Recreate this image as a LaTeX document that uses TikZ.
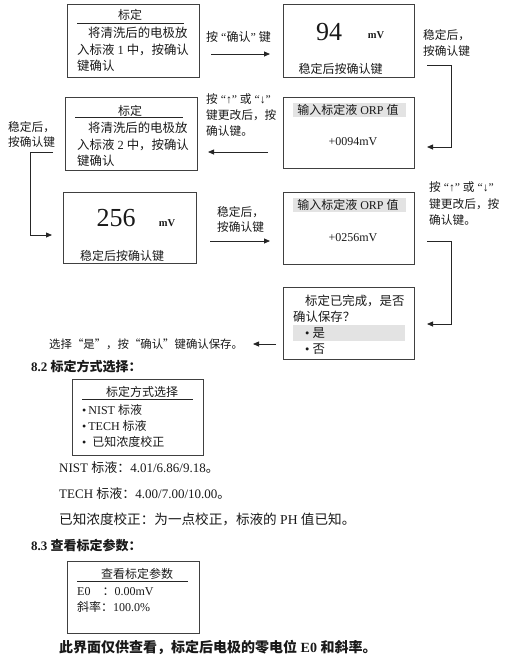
\documentclass[tikz,border=0pt]{standalone}
\usepackage{fontspec}
\setmainfont{Liberation Serif}
\newfontfamily\cjk{Noto Sans CJK SC}
\newcommand\C[1]{{\cjk #1}}
\usetikzlibrary{arrows.meta}
\begin{document}
\begin{tikzpicture}[x=1pt,y=-1pt,
  every node/.style={inner sep=0pt,text=black!90},
  txt/.style={anchor=west,font=\fontsize{12}{14}\selectfont},
  btxt/.style={anchor=west,font=\fontsize{12.4}{14}\selectfont},
  atxt/.style={anchor=west,font=\fontsize{11.7}{14}\selectfont},
  ptxt/.style={anchor=west,font=\fontsize{13}{15}\selectfont},
  ctxt/.style={anchor=center,font=\fontsize{12}{14}\selectfont},
  boxn/.style={draw=black!75,line width=0.9pt,minimum width=#1,anchor=center},
  big/.style={anchor=center,font=\fontsize{26}{28}\selectfont},
  unit/.style={anchor=center,font=\fontsize{10.5}{12}\selectfont\bfseries},
  band/.style={fill=black!11,draw=none},
  uline/.style={line width=0.8pt,black!85},
  arr/.style={line width=0.8pt,black!85,-{Triangle[length=6pt,width=5pt]}},
  head/.style={anchor=west,font=\fontsize{13}{15}\selectfont\bfseries}
]
\useasboundingbox (0,0) rectangle (513,656);

% Box 1
\node[boxn=132pt,minimum height=73pt] (b1) at (133,40.5) {};
\node[ctxt] (b1t) at (130,15) {\C{标定}};
\draw[uline] (77,23) -- (184,23);
\node[btxt] (b1a) at (88,33) {\C{将清洗后的电极放}};
\node[btxt] (b1b) at (77,50) {\C{入标液} 1 \C{中，按确认}};
\node[btxt] (b1c) at (77,66) {\C{键确认}};

% arrow 1
\node[txt] (l1) at (206,37) {\C{按} “\C{确认}” \C{键}};
\coordinate (a1s) at (211,54);
\coordinate (a1e) at (270,54);
\draw[arr] (a1s) -- (a1e);

% Box 2
\node[boxn=131pt,minimum height=73pt] (b2) at (348.5,40.5) {};
\node[big] (n94) at (329,32) {94};
\node[unit] (mv1) at (376,35) {mV};
\node[ctxt] (b2t) at (340.5,69) {\C{稳定后按确认键}};

\node[atxt] (r1a) at (423,35) {\C{稳定后，}};
\node[atxt] (r1b) at (423,51) {\C{按确认键}};
\coordinate (c1s) at (427,65);
\coordinate (c1e) at (427,147);
\draw[arr] (c1s) -- (451,65) -- (451,147) -- (c1e);

% Box 3
\node[boxn=131pt,minimum height=71pt] (b3) at (348.5,132.5) {};
\fill[band] (293,103) rectangle (406,117);
\node[ctxt] (b3h) at (348,110) {\C{输入标定液} ORP \C{值}};
\node[ctxt] (b3v) at (353,142) {+0094mV};

\node[atxt] (l2a) at (206,99) {\C{按} “↑” \C{或} “↓”};
\node[atxt] (l2b) at (206,115) {\C{键更改后，按}};
\node[atxt] (l2c) at (206,131) {\C{确认键。}};
\coordinate (a2s) at (268,152);
\coordinate (a2e) at (208,152);
\draw[arr] (a2s) -- (a2e);

% Box 4
\node[boxn=132pt,minimum height=73pt] (b4) at (131,133.5) {};
\node[ctxt] (b4t) at (130,111) {\C{标定}};
\draw[uline] (75,117) -- (183,117);
\node[btxt] (b4a) at (88,128) {\C{将清洗后的电极放}};
\node[btxt] (b4b) at (77,145) {\C{入标液} 2 \C{中，按确认}};
\node[btxt] (b4c) at (77,161) {\C{键确认}};

\node[atxt] (r2a) at (8,127) {\C{稳定后，}};
\node[atxt] (r2b) at (8,142) {\C{按确认键}};
\coordinate (c2s) at (53,152);
\coordinate (c2e) at (52,235);
\draw[arr] (c2s) -- (30,152) -- (30,235) -- (c2e);

% Box 5
\node[boxn=133pt,minimum height=71pt] (b5) at (129.5,227.5) {};
\node[big] (n256) at (116,218) {256};
\node[unit] (mv2) at (167,223) {mV};
\node[ctxt] (b5t) at (122,256) {\C{稳定后按确认键}};

\node[atxt] (l3a) at (217,212) {\C{稳定后，}};
\node[atxt] (l3b) at (217,227) {\C{按确认键}};
\coordinate (a3s) at (210,241);
\coordinate (a3e) at (270,241);
\draw[arr] (a3s) -- (a3e);

% Box 6
\node[boxn=131pt,minimum height=72pt] (b6) at (348.5,228) {};
\fill[band] (293,198) rectangle (406,212);
\node[ctxt] (b6h) at (348,205) {\C{输入标定液} ORP \C{值}};
\node[ctxt] (b6v) at (353,238) {+0256mV};

\node[atxt] (r3a) at (429,187) {\C{按} “↑” \C{或} “↓”};
\node[atxt] (r3b) at (429,204) {\C{键更改后，按}};
\node[atxt] (r3c) at (429,220) {\C{确认键。}};
\coordinate (c3s) at (427,241);
\coordinate (c3e) at (427,324);
\draw[arr] (c3s) -- (451,241) -- (451,324) -- (c3e);

% Box 7
\node[boxn=131pt,minimum height=72pt] (b7) at (348.5,323) {};
\node[btxt] (b7a) at (305,301) {\C{标定已完成，是否}};
\node[btxt] (b7b) at (293,317) {\C{确认保存？}};
\fill[band] (293,325) rectangle (405,341);
\node[btxt] (b7c) at (305,333) {\textbullet\ \C{是}};
\node[btxt] (b7d) at (305,349) {\textbullet\ \C{否}};

\coordinate (a4s) at (276,344);
\coordinate (a4e) at (253,344);
\draw[arr] (a4s) -- (a4e);
\node[atxt,font=\fontsize{11.4}{14}\selectfont] (sel) at (49,344) {\C{选择“是”，按“确认”键确认保存。}};

% 8.2
\node[head] (h82) at (31,367) {8.2 \C{标定方式选择：}};
\node[boxn=131pt,minimum height=76pt] (b8) at (137.5,417) {};
\node[ctxt] (b8t) at (142,392) {\C{标定方式选择}};
\draw[uline] (82,399) -- (193,399);
\node[txt] (b8a) at (82,410) {\textbullet\,NIST \C{标液}};
\node[txt] (b8b) at (82,426) {\textbullet\,TECH \C{标液}};
\node[txt] (b8c) at (82,442) {\textbullet\ \ \C{已知浓度校正}};

\node[ptxt] (p1) at (59,468) {NIST \C{标液：}4.01/6.86/9.18\C{。}};
\node[ptxt] (p2) at (59,494) {TECH \C{标液：}4.00/7.00/10.00\C{。}};
\node[ptxt,font=\fontsize{13.6}{15}\selectfont] (p3) at (59,519) {\C{已知浓度校正：为一点校正，标液的} PH \C{值已知。}};

% 8.3
\node[head] (h83) at (31,545) {8.3 \C{查看标定参数：}};
\node[boxn=132pt,minimum height=72pt] (b9) at (133,597) {};
\node[ctxt] (b9t) at (137,574) {\C{查看标定参数}};
\draw[uline] (77,581) -- (188,581);
\node[txt] (b9a) at (77,592) {E0\quad\C{：}0.00mV};
\node[txt] (b9b) at (77,607) {\C{斜率：}100.0\%};

\node[head,font=\fontsize{14}{16}\selectfont\bfseries] (fin) at (59,647) {\C{此界面仅供查看，标定后电极的零电位} E0 \C{和斜率。}};
\end{tikzpicture}
\end{document}
